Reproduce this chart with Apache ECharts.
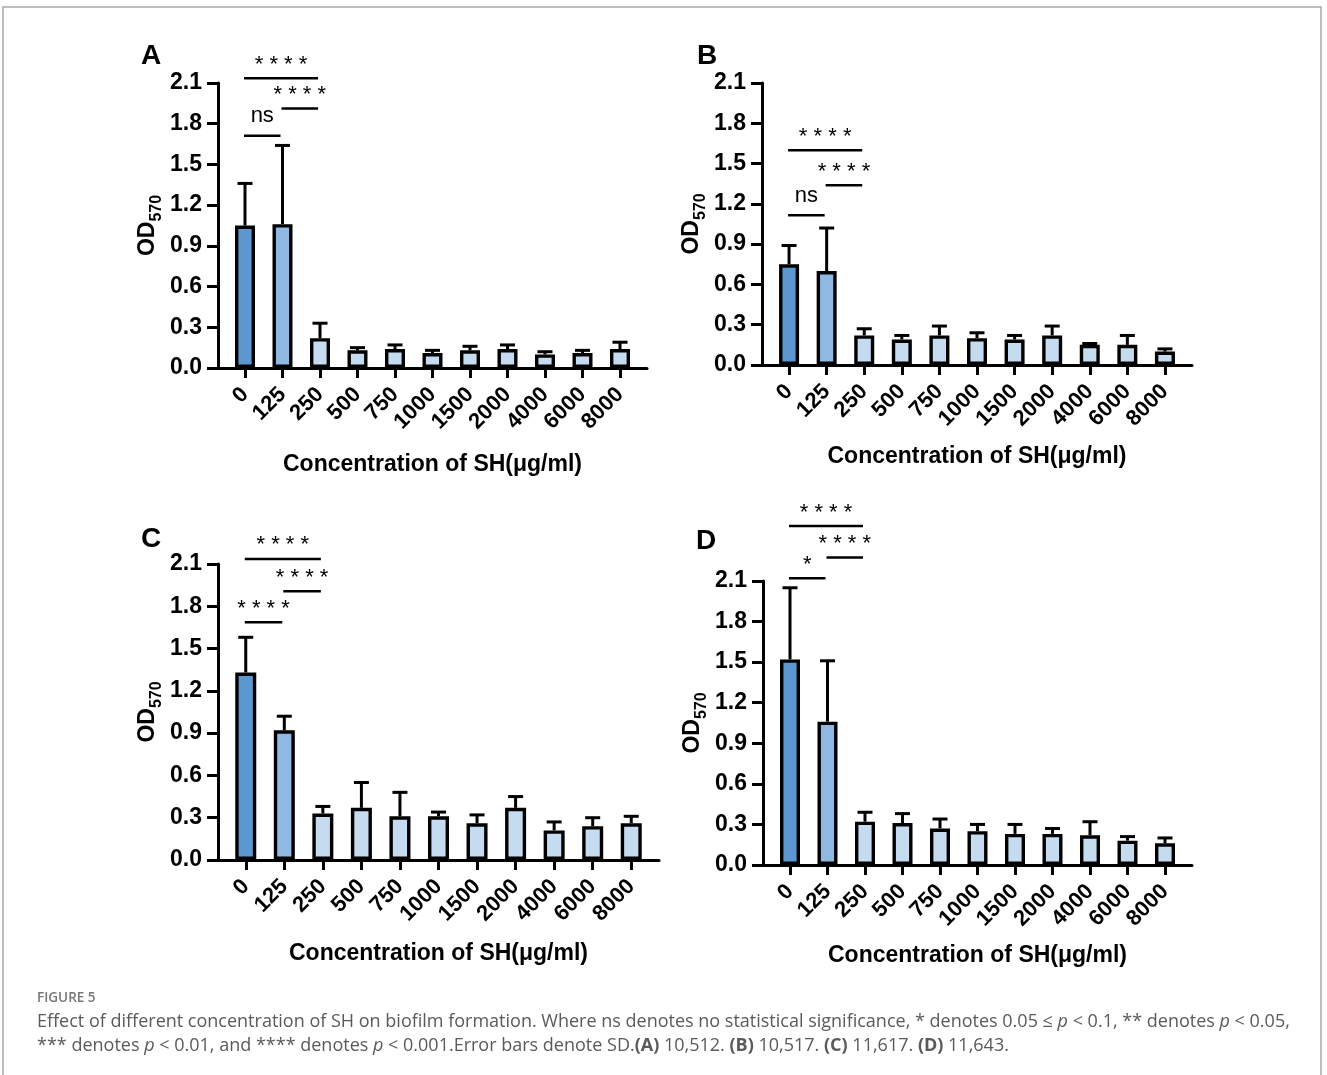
<!DOCTYPE html>
<html>
<head>
<meta charset="utf-8">
<title>Effect of SH concentration on biofilm formation</title>
<script src="https://cdn.jsdelivr.net/npm/echarts@6/dist/echarts.min.js"></script>
<style>
  html, body { margin: 0; padding: 0; background: #fff; }
  #chart { width: 1327px; height: 1075px; }
</style>
</head>
<body>
<div id="chart"></div>
<script>
// SH concentrations (µg/ml) on the category axis
const concentrations = ['0', '125', '250', '500', '750', '1000', '1500', '2000', '4000', '6000', '8000'];

// OD570 means and standard deviations, one pair per strain
const meanA = [1.05, 1.06, 0.22, 0.13, 0.14, 0.11, 0.13, 0.14, 0.10, 0.11, 0.14];
const sdA   = [0.31, 0.58, 0.11, 0.02, 0.03, 0.02, 0.03, 0.03, 0.02, 0.02, 0.05];

const meanB = [0.75, 0.70, 0.22, 0.19, 0.22, 0.20, 0.19, 0.22, 0.15, 0.15, 0.10];
const sdB   = [0.14, 0.32, 0.05, 0.03, 0.07, 0.04, 0.03, 0.07, 0.01, 0.07, 0.02];

const meanC = [1.33, 0.92, 0.33, 0.37, 0.31, 0.31, 0.26, 0.37, 0.21, 0.24, 0.26];
const sdC   = [0.25, 0.10, 0.05, 0.18, 0.17, 0.03, 0.06, 0.08, 0.06, 0.06, 0.05];

const meanD = [1.52, 1.06, 0.32, 0.31, 0.27, 0.25, 0.23, 0.23, 0.22, 0.18, 0.16];
const sdD   = [0.53, 0.45, 0.07, 0.07, 0.07, 0.05, 0.07, 0.04, 0.10, 0.03, 0.04];

// Significance brackets: [from category, to category, bracket height (OD570), label]
const sigA = [[0, 2, 2.135, '****'], [1, 2, 1.913, '****'], [0, 1, 1.711, 'ns']];
const sigB = [[0, 2, 1.600, '****'], [1, 2, 1.339, '****'], [0, 1, 1.116, 'ns']];
const sigC = [[0, 2, 2.136, '****'], [1, 2, 1.906, '****'], [0, 1, 1.686, '****']];
const sigD = [[0, 2, 2.507, '****'], [1, 2, 2.273, '****'], [0, 1, 2.120, '*']];

// Y-axis ticks
const yTicks = [0, 0.3, 0.6, 0.9, 1.2, 1.5, 1.8, 2.1];

const panelLetters = ['A', 'B', 'C', 'D'];
const panelMeans = [meanA, meanB, meanC, meanD];
const panelSds = [sdA, sdB, sdC, sdD];
const panelSigs = [sigA, sigB, sigC, sigD];

// Plot frames for the four panels
const layout = [
  { left: 218, top: 83,  width: 429, height: 285, letterX: 152, letterY: 55,  barWidth: 20, titleGap: 85 },
  { left: 762, top: 83,  width: 430, height: 282, letterX: 708, letterY: 55,  barWidth: 20, titleGap: 80 },
  { left: 218, top: 564, width: 441, height: 296, letterX: 152, letterY: 538, barWidth: 21, titleGap: 82 },
  { left: 763, top: 581, width: 429, height: 284, letterX: 707, letterY: 540, barWidth: 20, titleGap: 79 }
];

const barColors = ['#5b97d0', '#8fb8e2', '#c5dbf0'];
const FONT = '"Liberation Sans", Arial, Helvetica, sans-serif';
const AXIS_W = 3;
const X_PAD = 0.72;
const catIndex = concentrations.map((c, i) => i);

const grids = [], xAxes = [], yAxes = [], series = [], graphics = [];

panelLetters.forEach((letter, p) => {
  const L = layout[p];
  grids.push({ left: L.left, top: L.top, width: L.width, height: L.height, containLabel: false });

  xAxes.push({
    gridIndex: p,
    type: 'value',
    min: -X_PAD,
    max: concentrations.length - 1 + X_PAD,
    name: 'Concentration of SH(μg/ml)',
    nameLocation: 'middle',
    nameGap: L.titleGap,
    nameTextStyle: { fontFamily: FONT, fontWeight: 'bold', fontSize: 23, color: '#000' },
    axisLine: { show: true, onZero: false, lineStyle: { color: '#000', width: AXIS_W } },
    axisTick: { show: true, customValues: catIndex, length: 10, lineStyle: { color: '#000', width: AXIS_W } },
    axisLabel: {
      customValues: catIndex,
      rotate: 45,
      margin: 23,
      hideOverlap: false,
      fontFamily: FONT, fontWeight: 'bold', fontSize: 22, color: '#000',
      formatter: v => concentrations[Math.round(v)]
    },
    splitLine: { show: false }
  });

  yAxes.push({
    gridIndex: p,
    type: 'value',
    min: yTicks[0],
    max: yTicks[yTicks.length - 1],
    interval: 0.3,
    name: '{a|OD}{b|570}',
    nameLocation: 'middle',
    nameRotate: 90,
    nameGap: 59,
    nameTextStyle: {
      rich: {
        a: { fontFamily: FONT, fontWeight: 'bold', fontSize: 23, color: '#000', verticalAlign: 'bottom' },
        b: { fontFamily: FONT, fontWeight: 'bold', fontSize: 16, color: '#000', verticalAlign: 'bottom', padding: [0, 0, -6, 0] }
      }
    },
    axisLine: { show: true, onZero: false, lineStyle: { color: '#000', width: AXIS_W } },
    axisTick: { show: true, length: 11, lineStyle: { color: '#000', width: AXIS_W } },
    axisLabel: {
      margin: 16,
      fontFamily: FONT, fontWeight: 'bold', fontSize: 23, color: '#000',
      formatter: v => v.toFixed(1)
    },
    splitLine: { show: false }
  });

  const mean = panelMeans[p], sd = panelSds[p], sig = panelSigs[p];

  // error bars (upper SD only), drawn behind the bars
  series.push({
    type: 'custom',
    xAxisIndex: p, yAxisIndex: p,
    z: 1,
    clip: false,
    silent: true,
    data: mean.map((v, i) => [i, v, v + sd[i]]),
    encode: { x: 0, y: [1, 2] },
    renderItem: (params, api) => {
      const base = api.coord([api.value(0), api.value(1)]);
      const top = api.coord([api.value(0), api.value(2)]);
      const half = 7.5;
      return {
        type: 'group',
        children: [
          { type: 'line', shape: { x1: base[0], y1: base[1], x2: top[0], y2: top[1] },
            style: { stroke: '#000', lineWidth: 3 } },
          { type: 'line', shape: { x1: top[0] - half, y1: top[1], x2: top[0] + half, y2: top[1] },
            style: { stroke: '#000', lineWidth: 3 } }
        ]
      };
    }
  });

  // bars
  series.push({
    type: 'bar',
    xAxisIndex: p, yAxisIndex: p,
    z: 2,
    barWidth: L.barWidth,
    silent: true,
    data: mean.map((v, i) => ({
      value: [i, v],
      itemStyle: { color: barColors[Math.min(i, 2)] }
    })),
    itemStyle: { borderColor: '#000', borderWidth: 3.4 }
  });

  // significance brackets
  series.push({
    type: 'custom',
    xAxisIndex: p, yAxisIndex: p,
    z: 3,
    clip: false,
    silent: true,
    data: sig.map(s => [s[0], s[1], s[2]]),
    encode: { x: [0, 1], y: 2 },
    renderItem: (params, api) => {
      const a = api.coord([api.value(0), api.value(2)]);
      const b = api.coord([api.value(1), api.value(2)]);
      const label = sig[params.dataIndex][3];
      const isNs = label === 'ns';
      const text = isNs ? 'ns' : label.split('').join(' ');
      const x1 = a[0] - 1, x2 = b[0] - 2;
      return {
        type: 'group',
        children: [
          { type: 'line', shape: { x1: x1, y1: a[1], x2: x2, y2: b[1] },
            style: { stroke: '#000', lineWidth: 2.5 } },
          { type: 'text', x: (x1 + x2) / 2, y: a[1] - (isNs ? 8.5 : 2.5),
            style: {
              text: text,
              fontFamily: FONT, fontSize: 22, fill: '#000',
              align: 'center', verticalAlign: 'bottom'
            } }
        ]
      };
    }
  });

  graphics.push({
    type: 'text', left: L.letterX - 11, top: L.letterY - 13,
    style: { text: letter, fontFamily: FONT, fontWeight: 'bold', fontSize: 28, fill: '#000' }
  });
});

// figure frame and caption
const CAP_FONT = '"Open Sans", "Noto Sans", sans-serif';
const CAP_SIZE = 18;
graphics.push(
  { type: 'rect', shape: { x: 3, y: 7, width: 1318, height: 1080 },
    style: { fill: 'none', stroke: '#a8a8a8', lineWidth: 1.5 }, z: -1 },
  { type: 'text', left: 37, top: 991,
    style: { text: 'FIGURE 5', fontFamily: CAP_FONT, fontWeight: 600, fontSize: 13.5, fill: '#777' } },
  { type: 'text', left: 37, top: 1013,
    style: {
      text: 'Effect of different concentration of SH on biofilm formation. Where ns denotes no statistical significance, * denotes 0.05 ≤ {i|p} < 0.1, ** denotes {i|p} < 0.05,',
      fontFamily: CAP_FONT, fontSize: CAP_SIZE, fill: '#5a5a5a',
      rich: { i: { fontFamily: CAP_FONT, fontSize: CAP_SIZE, fontStyle: 'italic', fill: '#5a5a5a' } }
    } },
  { type: 'text', left: 37, top: 1037,
    style: {
      text: '*** denotes {i|p} < 0.01, and **** denotes {i|p} < 0.001.Error bars denote SD.{b|(A)} 10,512. {b|(B)} 10,517. {b|(C)} 11,617. {b|(D)} 11,643.',
      fontFamily: CAP_FONT, fontSize: CAP_SIZE, fill: '#5a5a5a',
      rich: {
        i: { fontFamily: CAP_FONT, fontSize: CAP_SIZE, fontStyle: 'italic', fill: '#5a5a5a' },
        b: { fontFamily: CAP_FONT, fontSize: CAP_SIZE, fontWeight: 'bold', fill: '#5a5a5a' }
      }
    } }
);

const chart = echarts.init(document.getElementById('chart'), null, { renderer: 'canvas' });
chart.setOption({
  animation: false,
  backgroundColor: '#fff',
  grid: grids,
  xAxis: xAxes,
  yAxis: yAxes,
  series: series,
  graphic: graphics
});
</script>
</body>
</html>
